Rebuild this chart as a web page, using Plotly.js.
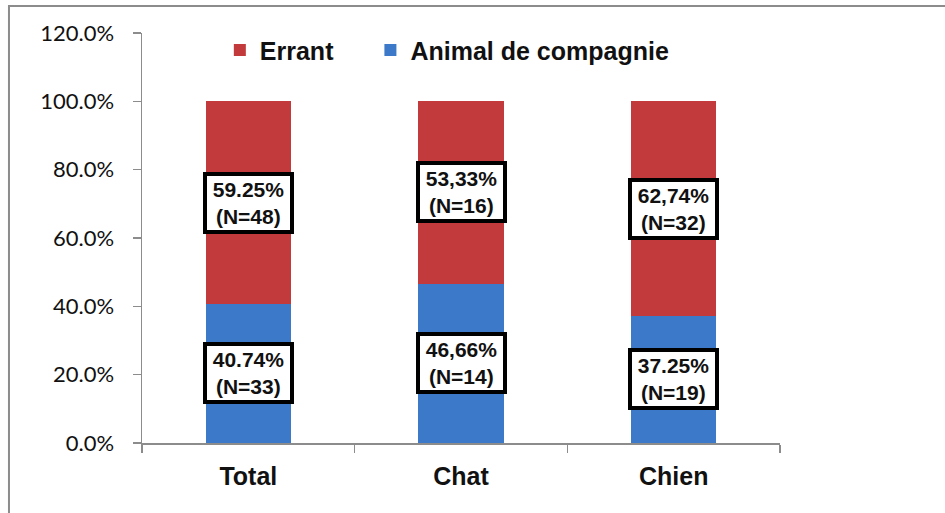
<!DOCTYPE html>
<html>
<head>
<meta charset="utf-8">
<script src="https://cdn.plot.ly/plotly-3.0.1.min.js"></script>
<style>
  html, body { margin: 0; padding: 0; background: #fff; overflow: hidden; }
  #chart { width: 945px; height: 513px; }
</style>
</head>
<body>
<div id="chart"></div>
<script>
// Répartition errant / animal de compagnie, en pourcentage par groupe
var categories = ['Total', 'Chat', 'Chien'];
var animalPct = [40.74, 46.66, 37.25];
var errantPct = [59.25, 53.33, 62.74];
var animalN = [33, 14, 19];
var errantN = [48, 16, 32];
// séparateur décimal utilisé dans chaque étiquette
var animalSep = ['.', ',', '.'];
var errantSep = ['.', ',', ','];
var yTicks = [0, 20, 40, 60, 80, 100, 120];

var RED = '#c23a3b';
var BLUE = '#3c79c8';
var AXIS = '#8c8c8c';
var BOLD = 'Liberation Sans, Arial, sans-serif';

function label(v, sep, n) {
  return v.toFixed(2).replace('.', sep) + '%<br>(N=' + n + ')';
}

// each series gets its own legend so the two entries can be spaced freely
var traces = [
  {
    type: 'bar', name: 'Animal de compagnie', legend: 'legend2',
    x: categories, y: animalPct,
    marker: { color: BLUE, line: { width: 0 } },
    width: 0.4, hoverinfo: 'skip'
  },
  {
    type: 'bar', name: 'Errant', legend: 'legend',
    x: categories, y: errantPct,
    marker: { color: RED, line: { width: 0 } },
    width: 0.4, hoverinfo: 'skip'
  }
];

var annotations = [];
categories.forEach(function (c, i) {
  var boxStyle = {
    x: c, xref: 'x', yref: 'y', showarrow: false,
    align: 'center', valign: 'middle',
    bgcolor: '#ffffff', bordercolor: '#000000', borderwidth: 4, borderpad: 1,
    width: 81, height: 52,
    font: { family: BOLD, size: 21, color: '#111' }
  };
  annotations.push(Object.assign({}, boxStyle, {
    y: animalPct[i] / 2,
    text: '<b>' + label(animalPct[i], animalSep[i], animalN[i]) + '</b>'
  }));
  annotations.push(Object.assign({}, boxStyle, {
    y: animalPct[i] + errantPct[i] / 2,
    text: '<b>' + label(errantPct[i], errantSep[i], errantN[i]) + '</b>'
  }));
});

var legendFont = { family: BOLD, size: 25, color: '#111', weight: 'bold' };

var layout = {
  width: 945, height: 513,
  margin: { l: 142, r: 165, t: 33, b: 70 },
  paper_bgcolor: '#ffffff', plot_bgcolor: '#ffffff',
  barmode: 'stack',
  showlegend: true,
  legend: {
    orientation: 'h', x: 0.122, xanchor: 'left', y: 0.958, yanchor: 'middle',
    bgcolor: 'rgba(0,0,0,0)', font: legendFont
  },
  legend2: {
    orientation: 'h', x: 0.358, xanchor: 'left', y: 0.958, yanchor: 'middle',
    bgcolor: 'rgba(0,0,0,0)', font: legendFont
  },
  xaxis: {
    type: 'category', range: [-0.5, 2.5],
    showline: true, linecolor: AXIS, linewidth: 1.5,
    ticks: 'outside', tickson: 'boundaries', ticklen: 8, tickcolor: AXIS, tickwidth: 1.5,
    ticklabelstandoff: 10,
    tickfont: { family: BOLD, size: 25, color: '#111', weight: 'bold' },
    showgrid: false, zeroline: false, fixedrange: true
  },
  yaxis: {
    range: [0, 120], tickvals: yTicks,
    ticktext: yTicks.map(function (t) { return t.toFixed(1) + '%'; }),
    showline: true, linecolor: AXIS, linewidth: 1.5,
    ticks: 'outside', ticklen: 8, tickcolor: AXIS, tickwidth: 1.5,
    ticklabelstandoff: 14,
    tickfont: { family: 'Lato, Carlito, sans-serif', size: 22, color: '#111' },
    showgrid: false, zeroline: false, fixedrange: true
  },
  annotations: annotations,
  // outer chart frame, running off the right and bottom edges
  shapes: [{
    type: 'rect', xref: 'paper', yref: 'paper',
    x0: -0.2085, x1: 1.4, y0: -0.4, y1: 1.066,
    line: { color: AXIS, width: 2 }, fillcolor: 'rgba(0,0,0,0)', layer: 'below'
  }]
};

Plotly.newPlot('chart', traces, layout, { staticPlot: true, displayModeBar: false });
</script>
</body>
</html>
